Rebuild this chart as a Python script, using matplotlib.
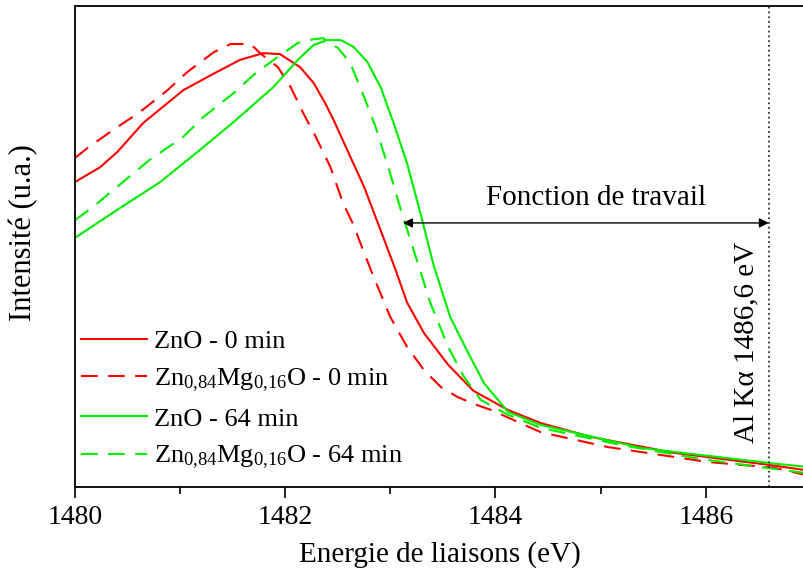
import matplotlib
matplotlib.use('Agg')
import matplotlib.pyplot as plt

# ZnO - 0 min
e_zno_0 = [1480.00, 1480.24, 1480.40, 1480.65, 1481.03, 1481.19, 1481.35, 1481.57, 1481.79, 1481.95,
           1482.14, 1482.27, 1482.38, 1482.46, 1482.62, 1482.75, 1482.91, 1483.05, 1483.16,
           1483.32, 1483.55, 1483.79, 1484.12, 1484.43, 1484.91, 1485.70, 1486.60, 1486.95]
i_zno_0 = [0.634, 0.665, 0.696, 0.757, 0.825, 0.844, 0.863, 0.888, 0.902, 0.900,
           0.873, 0.840, 0.798, 0.763, 0.686, 0.624, 0.532, 0.451, 0.383,
           0.320, 0.254, 0.200, 0.160, 0.133, 0.104, 0.071, 0.046, 0.035]

# Zn0.84Mg0.16O - 0 min
e_znmg_0 = [1480.00, 1480.12, 1480.36, 1480.62, 1480.88, 1481.07, 1481.32, 1481.48, 1481.67, 1481.76,
            1481.93, 1482.05, 1482.17, 1482.29, 1482.43, 1482.55, 1482.64, 1482.84, 1483.00, 1483.16,
            1483.32, 1483.48, 1483.64, 1483.79, 1483.96, 1484.43, 1485.07, 1486.02, 1486.65, 1486.95]
i_znmg_0 = [0.684, 0.705, 0.742, 0.780, 0.825, 0.863, 0.904, 0.921, 0.921, 0.902,
            0.873, 0.832, 0.778, 0.728, 0.665, 0.590, 0.549, 0.437, 0.353, 0.291,
            0.243, 0.208, 0.187, 0.173, 0.160, 0.114, 0.083, 0.052, 0.040, 0.025]

# ZnO - 64 min
e_zno_64 = [1480.00, 1480.40, 1480.81, 1481.19, 1481.51, 1481.89, 1482.12, 1482.27, 1482.40, 1482.53,
            1482.65, 1482.78, 1482.91, 1483.03, 1483.16, 1483.29, 1483.41, 1483.57, 1483.74, 1483.89,
            1484.12, 1484.43, 1485.39, 1486.60, 1486.95]
i_zno_64 = [0.518, 0.576, 0.634, 0.701, 0.759, 0.832, 0.888, 0.919, 0.929, 0.929,
            0.915, 0.884, 0.830, 0.757, 0.672, 0.566, 0.462, 0.353, 0.279, 0.216,
            0.156, 0.129, 0.081, 0.050, 0.042]

# Zn0.84Mg0.16O - 64 min
e_znmg_64 = [1480.00, 1480.17, 1480.40, 1480.71, 1481.03, 1481.22, 1481.51, 1481.70, 1481.89, 1482.12,
             1482.27, 1482.36, 1482.50, 1482.62, 1482.76, 1482.86, 1482.98, 1483.10, 1483.26, 1483.38,
             1483.55, 1483.70, 1483.86, 1484.12, 1484.43, 1485.20, 1485.96, 1486.95]
i_znmg_64 = [0.555, 0.582, 0.624, 0.680, 0.728, 0.769, 0.819, 0.857, 0.888, 0.923,
             0.931, 0.933, 0.913, 0.881, 0.805, 0.748, 0.665, 0.576, 0.466, 0.383,
             0.291, 0.229, 0.181, 0.150, 0.123, 0.087, 0.058, 0.029]

labels = ['ZnO - 0 min',
          r'Zn$_{0{,}84}$Mg$_{0{,}16}$O - 0 min',
          'ZnO - 64 min',
          r'Zn$_{0{,}84}$Mg$_{0{,}16}$O - 64 min']

al_ka = 1486.6      # Al K alpha
arrow_start = 1483.12
arrow_y = 0.549

plt.rcParams['font.family'] = 'Liberation Serif'
plt.rcParams['mathtext.fontset'] = 'custom'
plt.rcParams['mathtext.rm'] = 'Liberation Serif'
plt.rcParams['mathtext.it'] = 'Liberation Serif:italic'
plt.rcParams['mathtext.bf'] = 'Liberation Serif:bold'

fig = plt.figure(figsize=(8.04, 5.78), dpi=100)
ax = fig.add_axes([75/804, 1 - 487/578, 1 - 75/804 + 0.002, (487 - 6)/578])

red = '#ff0000'
green = '#00ee00'
ax.plot(e_zno_0, i_zno_0, color=red, lw=1.5, label=labels[0])
ax.plot(e_znmg_0, i_znmg_0, color=red, lw=1.5, dashes=(8, 5), label=labels[1])
ax.plot(e_zno_64, i_zno_64, color=green, lw=1.5, label=labels[2])
ax.plot(e_znmg_64, i_znmg_64, color=green, lw=1.5, dashes=(8, 5), label=labels[3])

ax.axvline(al_ka, color='#333333', ls=':', lw=1.3)
ax.annotate('', xy=(al_ka, arrow_y), xytext=(arrow_start, arrow_y),
            arrowprops=dict(arrowstyle='<|-|>', color='black', lw=1.0,
                            shrinkA=0, shrinkB=0, mutation_scale=14))
ax.text(1484.96, 0.600, 'Fonction de travail', fontsize=21, ha='center', va='center')
ax.text(1486.39, 0.30, 'Al K\u03b1 1486,6 eV', fontsize=21, rotation=90, ha='center', va='center')

ax.set_xlim(1480, 1486.95)
ax.set_ylim(0, 1)
ax.set_xticks([1480, 1482, 1484, 1486])
ax.set_xticks([1481, 1483, 1485], minor=True)
ax.set_yticks([])
ax.tick_params(axis='x', which='major', direction='out', length=8, width=1.2, labelsize=20, pad=5)
ax.tick_params(axis='x', which='minor', direction='out', length=5, width=1.2)
ax.spines['right'].set_visible(False)
for s in ['left', 'bottom', 'top']:
    ax.spines[s].set_linewidth(1.3)

ax.set_xlabel('Energie de liaisons (eV)', fontsize=21, labelpad=8)
ax.set_ylabel('Intensit\u00e9 (u.a.)', fontsize=22)
ax.yaxis.set_label_coords(-0.05, 0.53)

ax.legend(loc='lower left', frameon=False, fontsize=19, handlelength=2.5,
          handletextpad=0.27, labelspacing=0.5, borderaxespad=0.1,
          bbox_to_anchor=(-0.01, 0.005))

fig.savefig('out.png', dpi=100)
